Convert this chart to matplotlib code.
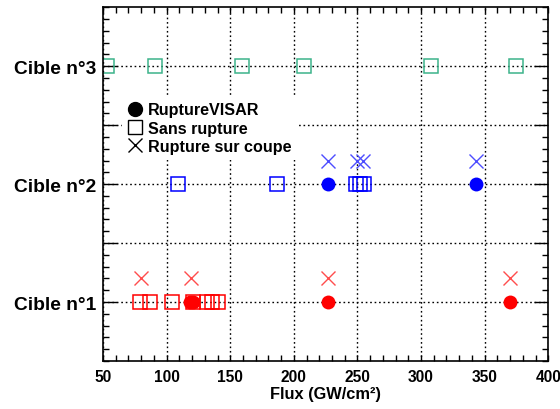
import matplotlib
import matplotlib.pyplot as plt
from matplotlib.ticker import MultipleLocator, FixedLocator
from matplotlib.lines import Line2D

matplotlib.use('agg')
plt.rcParams['font.family'] = ['Liberation Sans', 'DejaVu Sans']
plt.rcParams['font.weight'] = 'bold'

# Cible n°1 (red)
c1_visar = [118.5, 120.5, 227, 370]
c1_sans = [79, 87, 104, 121, 132, 136, 140]
c1_coupe = [80, 119, 227, 370]
# Cible n°2 (blue)
c2_visar = [227, 343]
c2_sans = [109, 187, 249, 252, 255]
c2_coupe = [227, 250, 254, 343]
# Cible n°3 (green)
c3_sans = [53, 91, 159, 208, 308, 375]

cibles = [1, 2, 3]
cible_labels = ['Cible n°1', 'Cible n°2', 'Cible n°3']
coupe_offset = 0.2

fig = plt.figure(figsize=(5.6, 4.1), dpi=100)
ax = fig.add_axes([0.184, 0.117, 0.795, 0.863])

ax.grid(True, which='major', color='black', linestyle=(0, (1.2, 2)), linewidth=1)
ax.set_axisbelow(True)

sq = dict(marker='s', linestyle='none', markersize=9.5, markerfacecolor='none', markeredgewidth=1.1)
ci = dict(marker='o', linestyle='none', markersize=10, markeredgewidth=0)
cr = dict(marker='x', linestyle='none', markersize=9.5, markeredgewidth=1)

ax.plot(c1_sans, [cibles[0]] * len(c1_sans), markeredgecolor='#ff0000', **sq)
ax.plot(c1_visar, [cibles[0]] * len(c1_visar), color='#ff0000', **ci)
ax.plot(c1_coupe, [cibles[0] + coupe_offset] * len(c1_coupe), color='#ff4d4d', **cr)

ax.plot(c2_sans, [cibles[1]] * len(c2_sans), markeredgecolor='#0000ff', **sq)
ax.plot(c2_visar, [cibles[1]] * len(c2_visar), color='#0000ff', **ci)
ax.plot(c2_coupe, [cibles[1] + coupe_offset] * len(c2_coupe), color='#4d4dff', **cr)

ax.plot(c3_sans, [cibles[2]] * len(c3_sans), markeredgecolor='#3cb38a', **sq)

ax.set_xlim(50, 400)
ax.set_ylim(0.5, 3.5)
ax.xaxis.set_major_locator(MultipleLocator(50))
ax.xaxis.set_minor_locator(MultipleLocator(10))
ax.yaxis.set_major_locator(FixedLocator([1, 1.5, 2, 2.5, 3]))
ax.yaxis.set_minor_locator(MultipleLocator(0.1))
ax.set_yticklabels([cible_labels[0], '', cible_labels[1], '', cible_labels[2]])

ax.tick_params(axis='both', which='both', direction='in', top=True, right=True, width=1)
ax.tick_params(axis='x', which='major', length=4, labelsize=11.2, pad=6)
ax.tick_params(axis='y', which='major', length=10, labelsize=13.8, pad=5)
ax.tick_params(axis='both', which='minor', length=4)
for lab in ax.get_xticklabels() + ax.get_yticklabels():
    lab.set_fontweight('bold')
for sp in ax.spines.values():
    sp.set_linewidth(1.2)

ax.set_xlabel('Flux (GW/cm²)', fontsize=11.8, fontweight='bold', labelpad=1)

handles = [
    Line2D([], [], marker='o', color='black', linestyle='none', markersize=10),
    Line2D([], [], marker='s', markerfacecolor='none', markeredgecolor='black', linestyle='none', markersize=10),
    Line2D([], [], marker='x', color='black', linestyle='none', markersize=10, markeredgewidth=1),
]
leg = ax.legend(handles, ['RuptureVISAR', 'Sans rupture', 'Rupture sur coupe'], loc='upper left',
                bbox_to_anchor=(0.025, 0.772), frameon=True, fancybox=False, framealpha=1,
                facecolor='white', edgecolor='none', handlelength=0.8, handletextpad=0.4,
                labelspacing=0.2, borderpad=0.4, prop={'weight': 'bold', 'size': 11.6})

fig.savefig('out.png')
plt.close()
